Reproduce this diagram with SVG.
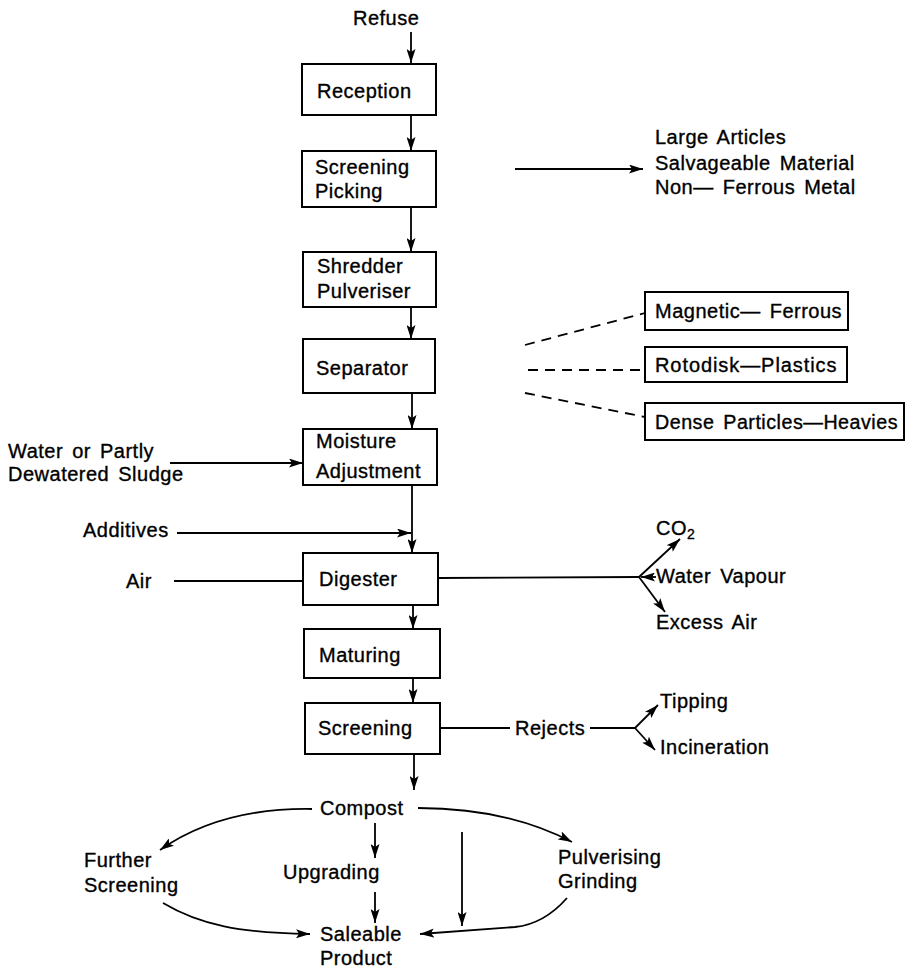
<svg xmlns="http://www.w3.org/2000/svg" width="906" height="971" viewBox="0 0 906 971">
<defs>
<marker id="ah" viewBox="0 0 14 9" refX="14" refY="4.5" markerWidth="14" markerHeight="9" markerUnits="userSpaceOnUse" orient="auto">
<path d="M0,0 L14,4.5 L0,9 L3,4.5 z" fill="#000"/>
</marker>
<style>
text{font-family:"Liberation Sans",Arial,sans-serif;font-size:20px;fill:#000;stroke:#000;stroke-width:0.35;letter-spacing:0.5px;word-spacing:3px}
.box{fill:#fff;stroke:#000;stroke-width:2}
.c{fill:none;stroke:#000;stroke-width:1.8}
.a{marker-end:url(#ah)}
.d{stroke-dasharray:10,7}
.sub{font-size:14px}
</style>
</defs>
<rect width="906" height="971" fill="#fff"/>
<g id="connectors">
<path class="c a" d="M411,32 L411,63"/>
<path class="c a" d="M411,115 L411,151"/>
<path class="c a" d="M411,207 L411,252"/>
<path class="c a" d="M411,307 L411,339"/>
<path class="c a" d="M412,393 L412,429"/>
<path class="c a" d="M515,169 L643,169"/>
<path class="c d" d="M525,345 L645,313"/>
<path class="c d" d="M528,370 L645,370"/>
<path class="c d" d="M525,393 L645,417"/>
<path class="c a" d="M170,463 L303,463"/>
<path class="c a" d="M412,485 L412,553"/>
<path class="c a" d="M177,533 L411,533"/>
<path class="c" d="M174,581 L303,581"/>
<path class="c" d="M438,578 L639,577"/>
<path class="c a" d="M639,577 L680,539"/>
<path class="c a" d="M639,577 L665,612"/>
<path class="c a" d="M656,577 L641,577"/>
<path class="c a" d="M413,605 L413,629"/>
<path class="c a" d="M413,678 L413,703"/>
<path class="c" d="M440,728 L510,728"/>
<path class="c" d="M590,728 L635,728"/>
<path class="c a" d="M635,728 L658,705"/>
<path class="c a" d="M635,728 L655,750"/>
<path class="c a" d="M414,754 L414,790"/>
<path class="c a" d="M312,809 C250,808 200,822 160,850"/>
<path class="c a" d="M418,808 C480,808 530,820 572,842"/>
<path class="c a" d="M375,823 L375,858"/>
<path class="c a" d="M375,892 L375,923"/>
<path class="c a" d="M163,903 C200,925 240,933 310,934"/>
<path class="c a" d="M462,832 L462,926"/>
<path class="c a" d="M567,898 C552,915 535,925 515,927 L420,934"/>
</g>
<g id="refuse"><text x="353" y="25">Refuse</text></g>
<g id="reception"><rect class="box" x="302" y="64" width="134" height="51"/><text x="317" y="98">Reception</text></g>
<g id="screening-picking"><rect class="box" x="302" y="151" width="134" height="56"/><text x="315" y="174">Screening</text><text x="315" y="198">Picking</text></g>
<g id="salvage"><text x="655" y="144">Large Articles</text><text x="655" y="170">Salvageable Material</text><text x="655" y="194">Non— Ferrous Metal</text></g>
<g id="shredder"><rect class="box" x="303" y="252" width="133" height="55"/><text x="317" y="273">Shredder</text><text x="317" y="298">Pulveriser</text></g>
<g id="separator"><rect class="box" x="303" y="339" width="132" height="54"/><text x="316" y="375">Separator</text></g>
<g id="magnetic"><rect class="box" x="645" y="292" width="203" height="38"/><text x="655" y="318">Magnetic— Ferrous</text></g>
<g id="rotodisk"><rect class="box" x="645" y="347" width="202" height="35"/><text x="655" y="372" textLength="182" lengthAdjust="spacing">Rotodisk—Plastics</text></g>
<g id="dense"><rect class="box" x="645" y="403" width="259" height="37"/><text x="655" y="429" textLength="243" lengthAdjust="spacingAndGlyphs">Dense Particles—Heavies</text></g>
<g id="water"><text x="8" y="458">Water or Partly</text><text x="8" y="481">Dewatered Sludge</text></g>
<g id="moisture"><rect class="box" x="303" y="429" width="134" height="56"/><text x="316" y="448">Moisture</text><text x="316" y="478">Adjustment</text></g>
<g id="additives"><text x="83" y="537">Additives</text></g>
<g id="air"><text x="126" y="588">Air</text></g>
<g id="digester"><rect class="box" x="303" y="553" width="135" height="52"/><text x="319" y="586">Digester</text></g>
<g id="co2"><text x="656" y="535">CO<tspan class="sub" dy="4">2</tspan></text></g>
<g id="water-vapour"><text x="656" y="583">Water Vapour</text></g>
<g id="excess-air"><text x="656" y="629">Excess Air</text></g>
<g id="maturing"><rect class="box" x="304" y="629" width="136" height="49"/><text x="319" y="662">Maturing</text></g>
<g id="screening"><rect class="box" x="305" y="703" width="135" height="51"/><text x="318" y="735">Screening</text></g>
<g id="rejects"><text x="515" y="735">Rejects</text></g>
<g id="tipping"><text x="660" y="708">Tipping</text></g>
<g id="incineration"><text x="660" y="754">Incineration</text></g>
<g id="compost"><text x="320" y="815">Compost</text></g>
<g id="further-screening"><text x="84" y="867">Further</text><text x="84" y="892">Screening</text></g>
<g id="upgrading"><text x="283" y="879">Upgrading</text></g>
<g id="pulverising"><text x="558" y="864">Pulverising</text><text x="558" y="888">Grinding</text></g>
<g id="saleable"><text x="320" y="941">Saleable</text><text x="320" y="965">Product</text></g>
</svg>
